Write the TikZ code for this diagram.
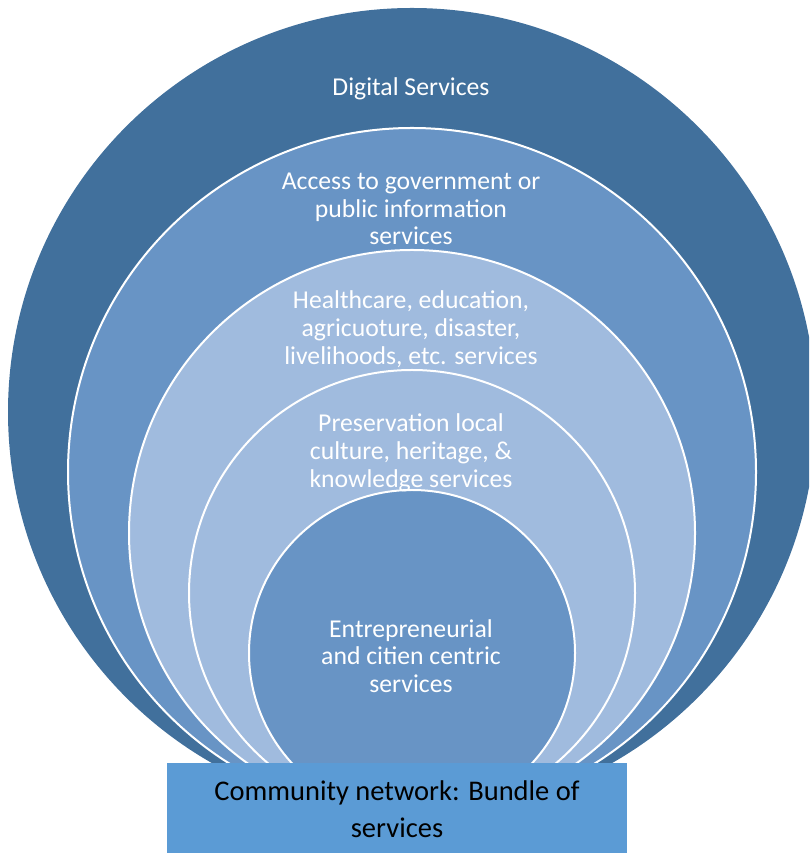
\documentclass[tikz,border=0pt]{standalone}
\usepackage{fontspec}
\setmainfont{Carlito}
\definecolor{cdark}{HTML}{41709C}
\definecolor{cmid}{HTML}{6894C5}
\definecolor{clight}{HTML}{A0BBDE}
\definecolor{cbox}{HTML}{5B9BD5}
\tikzset{
  ring/.style={circle, inner sep=0pt, minimum size=#1, draw=white, line width=2pt},
  ringtext/.style={text=white, align=center, font=\fontsize{25.7}{27.8}\selectfont},
}
\begin{document}
\begin{tikzpicture}[x=1pt,y=1pt]
\useasboundingbox (0,0) rectangle (809,853);
\clip (0,0) rectangle (809,853);
\node[ring=808pt, fill=cdark, draw=none] (c1) at (412,441) {};
\node[ring=688pt, fill=cmid] (c2) at (412,381) {};
\node[ring=566pt, fill=clight] (c3) at (412,320) {};
\node[ring=446pt, fill=clight] (c4) at (412,260) {};
\node[ring=326pt, fill=cmid] (c5) at (412,200) {};
\node[ringtext] (t1) at (411,764) {Digital Services};
\node[ringtext] (t2) at (411,644) {Access to government or\\public information\\services};
\node[ringtext] (t3) at (411,524) {Healthcare, education,\\agricuoture, disaster,\\livelihoods, etc. services};
\node[ringtext] (t4) at (411,400) {Preservation local\\culture, heritage, \&\\knowledge services};
\node[ringtext] (t5) at (411,197) {Entrepreneurial\\and citien centric\\services};
\fill[cbox] (167,0) rectangle (627,90);
\node[align=center, text=black, font=\fontsize{28.5}{36.5}\selectfont] (bt) at (397,44) {Community network: Bundle of\\services};
\end{tikzpicture}
\end{document}
